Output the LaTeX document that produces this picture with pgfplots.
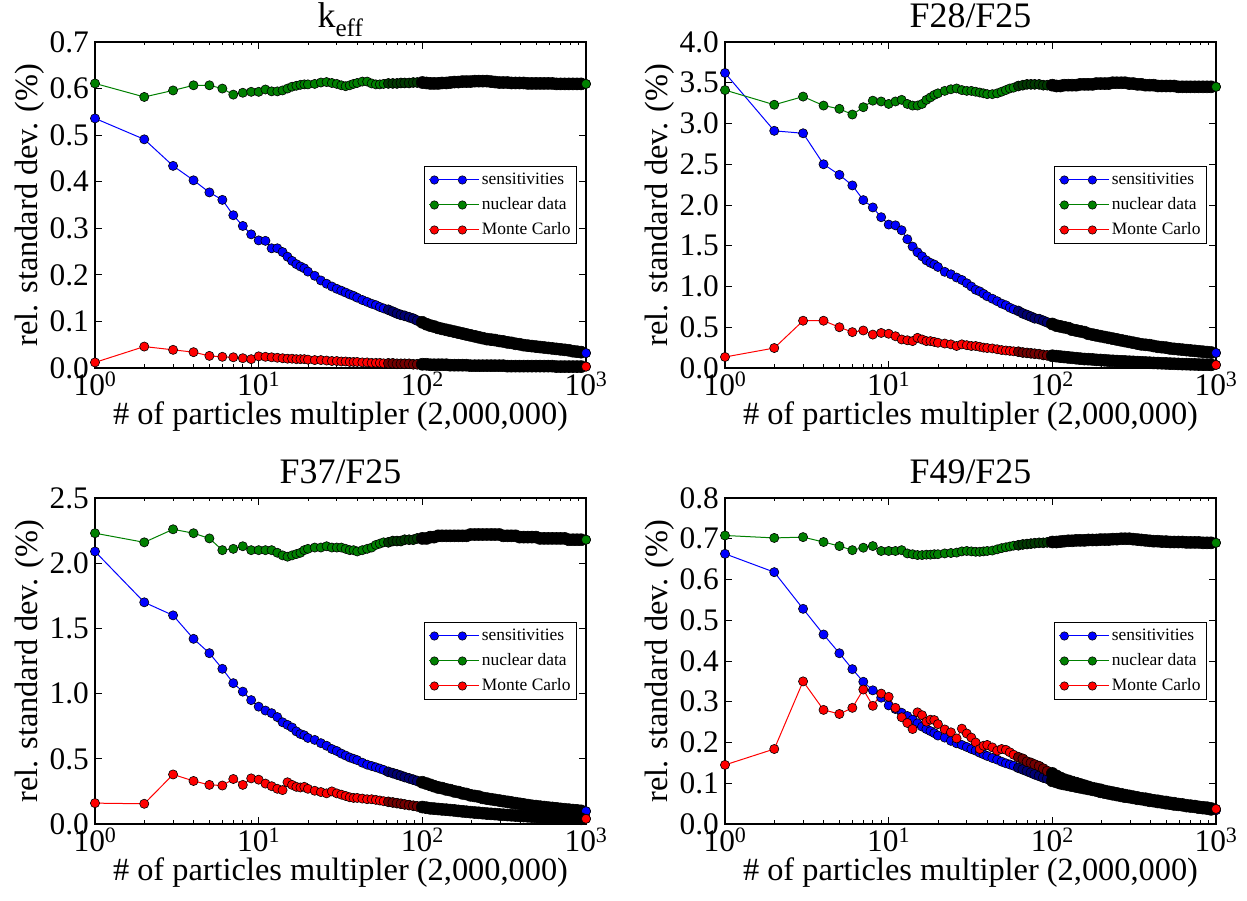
\documentclass[border=0pt]{standalone}
\usepackage{fontspec}
\setmainfont{Liberation Serif}
\usepackage{pgfplots}
\usepackage{pgfplotstable}
\pgfplotsset{compat=1.18}
\definecolor{cB}{rgb}{0,0,1}
\definecolor{cG}{rgb}{0,0.5,0}
\definecolor{cR}{rgb}{1,0,0}

\pgfplotstableread{
x s n m
1 0.536 0.611 0.012
2 0.491 0.582 0.046
3 0.434 0.596 0.039
4 0.403 0.607 0.034
5 0.377 0.607 0.026
6 0.361 0.600 0.024
7 0.328 0.587 0.023
8 0.305 0.591 0.021
9 0.287 0.593 0.019
10 0.274 0.593 0.025
11 0.273 0.598 0.024
12 0.257 0.594 0.023
13 0.257 0.594 0.022
14 0.249 0.596 0.021
15 0.239 0.600 0.020
16 0.230 0.604 0.020
17 0.223 0.606 0.019
18 0.218 0.608 0.019
19 0.214 0.609 0.019
20 0.207 0.609 0.018
22 0.198 0.610 0.017
24 0.188 0.613 0.017
26 0.181 0.614 0.016
28 0.175 0.612 0.015
30 0.170 0.610 0.015
32 0.166 0.607 0.014
34 0.162 0.605 0.014
36 0.158 0.607 0.013
38 0.155 0.610 0.013
40 0.151 0.612 0.013
43 0.146 0.615 0.012
46 0.142 0.615 0.012
49 0.138 0.611 0.011
52 0.135 0.609 0.011
55 0.131 0.609 0.011
58 0.128 0.610 0.010
62 0.125 0.611 0.010
66 0.121 0.611 0.010
70 0.117 0.611 0.009
74 0.114 0.612 0.009
78 0.112 0.612 0.009
83 0.109 0.612 0.009
88 0.106 0.613 0.008
93 0.102 0.613 0.008
100 0.098 0.613 0.008
106 0.094 0.612 0.008
112 0.091 0.611 0.007
118 0.089 0.611 0.007
125 0.086 0.611 0.007
132 0.084 0.612 0.007
140 0.082 0.612 0.007
148 0.080 0.613 0.006
157 0.078 0.614 0.006
166 0.076 0.614 0.006
176 0.074 0.615 0.006
186 0.072 0.615 0.006
197 0.070 0.615 0.005
209 0.068 0.616 0.005
221 0.066 0.616 0.005
234 0.064 0.616 0.005
248 0.062 0.616 0.005
263 0.061 0.615 0.005
278 0.060 0.614 0.005
295 0.058 0.613 0.005
312 0.057 0.613 0.005
331 0.055 0.613 0.004
350 0.054 0.612 0.004
371 0.052 0.612 0.004
393 0.051 0.612 0.004
416 0.049 0.612 0.004
441 0.048 0.611 0.004
467 0.047 0.611 0.004
495 0.046 0.611 0.004
524 0.045 0.611 0.004
555 0.044 0.611 0.004
588 0.043 0.611 0.004
623 0.042 0.611 0.004
660 0.041 0.610 0.003
699 0.040 0.610 0.003
741 0.039 0.610 0.003
785 0.038 0.610 0.003
832 0.036 0.610 0.003
881 0.035 0.610 0.003
933 0.034 0.610 0.003
1000 0.032 0.610 0.003
}\tA

\pgfplotstableread{
x s n m
1 3.62 3.41 0.135
2 2.91 3.23 0.245
3 2.88 3.33 0.58
4 2.50 3.22 0.58
5 2.37 3.18 0.50
6 2.24 3.11 0.44
7 2.06 3.20 0.46
8 1.97 3.28 0.41
9 1.85 3.27 0.43
10 1.76 3.24 0.42
11 1.75 3.27 0.39
12 1.69 3.29 0.35
13 1.58 3.24 0.34
14 1.49 3.22 0.33
15 1.42 3.22 0.37
16 1.37 3.24 0.35
17 1.32 3.29 0.33
18 1.29 3.32 0.33
19 1.27 3.35 0.32
20 1.24 3.37 0.31
22 1.18 3.40 0.30
24 1.15 3.42 0.29
26 1.11 3.43 0.27
28 1.08 3.41 0.29
30 1.04 3.40 0.28
32 1.00 3.40 0.27
34 0.96 3.39 0.27
36 0.94 3.38 0.26
38 0.91 3.37 0.25
40 0.88 3.36 0.245
43 0.85 3.36 0.24
46 0.82 3.37 0.23
49 0.79 3.39 0.22
52 0.77 3.41 0.215
55 0.74 3.43 0.21
58 0.72 3.44 0.205
62 0.70 3.46 0.20
66 0.67 3.47 0.19
70 0.65 3.48 0.185
74 0.63 3.48 0.18
78 0.61 3.48 0.175
83 0.60 3.48 0.17
88 0.58 3.47 0.16
93 0.56 3.47 0.155
100 0.54 3.47 0.15
106 0.52 3.46 0.145
112 0.51 3.46 0.14
118 0.50 3.47 0.135
125 0.49 3.47 0.13
132 0.47 3.47 0.125
140 0.46 3.47 0.12
148 0.45 3.48 0.115
157 0.44 3.48 0.11
166 0.42 3.48 0.108
176 0.41 3.48 0.105
186 0.40 3.49 0.10
197 0.39 3.49 0.098
209 0.38 3.49 0.095
221 0.37 3.49 0.09
234 0.36 3.50 0.088
248 0.35 3.50 0.085
263 0.34 3.50 0.082
278 0.33 3.50 0.08
295 0.32 3.49 0.077
312 0.31 3.49 0.075
331 0.30 3.48 0.072
350 0.29 3.48 0.07
371 0.285 3.47 0.067
393 0.28 3.47 0.065
416 0.27 3.47 0.062
441 0.26 3.46 0.06
467 0.255 3.46 0.058
495 0.25 3.46 0.056
524 0.24 3.46 0.054
555 0.235 3.46 0.052
588 0.23 3.45 0.05
623 0.225 3.45 0.048
660 0.22 3.45 0.047
699 0.215 3.45 0.045
741 0.21 3.45 0.044
785 0.205 3.45 0.042
832 0.20 3.45 0.041
881 0.195 3.45 0.04
933 0.19 3.45 0.039
1000 0.185 3.45 0.038
}\tB

\pgfplotstableread{
x s n m
1 2.09 2.23 0.16
2 1.70 2.16 0.155
3 1.60 2.26 0.38
4 1.42 2.23 0.33
5 1.31 2.19 0.30
6 1.19 2.10 0.295
7 1.08 2.11 0.345
8 1.015 2.13 0.30
9 0.95 2.10 0.35
10 0.90 2.10 0.34
11 0.87 2.10 0.31
12 0.85 2.10 0.29
13 0.82 2.08 0.27
14 0.78 2.06 0.26
15 0.76 2.05 0.32
16 0.74 2.06 0.30
17 0.71 2.07 0.285
18 0.69 2.08 0.28
19 0.68 2.10 0.285
20 0.66 2.11 0.27
22 0.645 2.12 0.255
24 0.62 2.12 0.245
26 0.60 2.13 0.235
28 0.575 2.12 0.25
30 0.56 2.12 0.235
32 0.54 2.12 0.225
34 0.525 2.11 0.215
36 0.51 2.10 0.205
38 0.50 2.10 0.20
40 0.49 2.09 0.20
43 0.47 2.10 0.195
46 0.455 2.11 0.19
49 0.445 2.12 0.19
52 0.435 2.14 0.185
55 0.425 2.15 0.18
58 0.415 2.16 0.175
62 0.40 2.16 0.17
66 0.39 2.17 0.165
70 0.38 2.17 0.16
74 0.37 2.17 0.155
78 0.36 2.18 0.15
83 0.35 2.18 0.145
88 0.34 2.18 0.14
93 0.33 2.19 0.135
100 0.32 2.19 0.13
106 0.31 2.19 0.125
112 0.30 2.20 0.12
118 0.29 2.20 0.118
125 0.28 2.21 0.115
132 0.275 2.21 0.112
140 0.265 2.21 0.11
148 0.26 2.21 0.107
157 0.25 2.21 0.104
166 0.245 2.21 0.10
176 0.235 2.21 0.097
186 0.23 2.21 0.094
197 0.22 2.22 0.091
209 0.215 2.22 0.088
221 0.21 2.22 0.086
234 0.20 2.22 0.083
248 0.195 2.22 0.08
263 0.19 2.22 0.078
278 0.185 2.22 0.076
295 0.18 2.22 0.073
312 0.175 2.21 0.071
331 0.17 2.21 0.069
350 0.165 2.21 0.067
371 0.16 2.21 0.065
393 0.155 2.20 0.063
416 0.15 2.20 0.061
441 0.145 2.20 0.059
467 0.14 2.20 0.057
495 0.137 2.20 0.055
524 0.133 2.19 0.053
555 0.13 2.19 0.051
588 0.126 2.19 0.05
623 0.123 2.19 0.048
660 0.12 2.19 0.047
699 0.116 2.19 0.045
741 0.113 2.19 0.044
785 0.11 2.18 0.043
832 0.107 2.18 0.042
881 0.104 2.18 0.041
933 0.101 2.18 0.040
1000 0.098 2.18 0.04
}\tC

\pgfplotstableread{
x s n m
1 0.663 0.708 0.145
2 0.618 0.702 0.184
3 0.528 0.704 0.350
4 0.465 0.692 0.280
5 0.419 0.682 0.270
6 0.380 0.672 0.285
7 0.349 0.678 0.330
8 0.328 0.682 0.290
9 0.310 0.670 0.320
10 0.291 0.670 0.312
11 0.282 0.670 0.285
12 0.273 0.672 0.262
13 0.265 0.664 0.248
14 0.256 0.662 0.233
15 0.247 0.660 0.274
16 0.239 0.660 0.267
17 0.233 0.661 0.251
18 0.228 0.661 0.256
19 0.223 0.662 0.255
20 0.217 0.662 0.245
22 0.212 0.664 0.232
24 0.204 0.665 0.225
26 0.198 0.666 0.210
28 0.194 0.669 0.234
30 0.189 0.670 0.222
32 0.184 0.669 0.212
34 0.180 0.668 0.200
36 0.175 0.668 0.184
38 0.171 0.669 0.192
40 0.167 0.670 0.194
43 0.162 0.671 0.188
46 0.158 0.674 0.180
49 0.153 0.677 0.184
52 0.149 0.679 0.182
55 0.146 0.681 0.176
58 0.143 0.683 0.170
62 0.138 0.684 0.164
66 0.134 0.686 0.160
70 0.130 0.687 0.153
74 0.126 0.688 0.150
78 0.122 0.689 0.146
83 0.118 0.690 0.142
88 0.114 0.690 0.136
93 0.111 0.691 0.130
100 0.106 0.692 0.124
106 0.103 0.692 0.118
112 0.100 0.693 0.113
118 0.098 0.694 0.109
125 0.096 0.695 0.106
132 0.094 0.695 0.103
140 0.092 0.696 0.100
148 0.090 0.696 0.097
157 0.088 0.696 0.094
166 0.086 0.697 0.091
176 0.084 0.697 0.088
186 0.082 0.697 0.086
197 0.079 0.698 0.084
209 0.077 0.698 0.081
221 0.075 0.698 0.079
234 0.073 0.699 0.077
248 0.071 0.699 0.075
263 0.069 0.700 0.073
278 0.067 0.700 0.071
295 0.066 0.700 0.069
312 0.064 0.699 0.067
331 0.062 0.698 0.065
350 0.061 0.697 0.063
371 0.059 0.696 0.062
393 0.057 0.695 0.060
416 0.056 0.694 0.058
441 0.054 0.694 0.057
467 0.053 0.693 0.055
495 0.051 0.693 0.054
524 0.050 0.692 0.052
555 0.048 0.692 0.051
588 0.047 0.692 0.049
623 0.046 0.692 0.048
660 0.044 0.691 0.046
699 0.043 0.691 0.045
741 0.042 0.691 0.044
785 0.040 0.691 0.042
832 0.039 0.690 0.041
881 0.038 0.690 0.040
933 0.036 0.690 0.038
1000 0.034 0.690 0.037
}\tD

\pgfplotsset{
  scale only axis, width=491bp, height=326bp,
  xmin=1, xmax=1000, ymin=0,
  xtick={1,10,100,1000},
  xticklabels={10\textsuperscript{0},10\textsuperscript{1},10\textsuperscript{2},10\textsuperscript{3}},
  axis line style={line width=1.1bp},
  major tick length=7bp, minor tick length=3.5bp,
  tick align=inside,
  tick style={black, line width=0.8bp},
  tick label style={font=\fontsize{31.5}{36}\selectfont},
  xticklabel style={inner sep=0pt, anchor=north, yshift=-3.5bp},
  yticklabel style={inner sep=0pt, anchor=east, xshift=-6bp},
  label style={font=\fontsize{32.5}{38}\selectfont},
  xlabel style={at={(axis description cs:0.5,0)}, anchor=north, inner sep=0pt, yshift=-34bp},
  ylabel style={at={(axis description cs:-0.1324,0.5)}, anchor=center, inner sep=0pt},
  title style={font=\fontsize{36}{42}\selectfont, at={(axis description cs:0.5,1)}, anchor=base, inner sep=0pt, yshift=9bp},
  legend style={at={(axis description cs:1,0.5)}, anchor=east, xshift=-9bp,
      draw=black, line width=1bp, font=\fontsize{17.5}{21}\selectfont,
      inner xsep=4bp, inner ysep=5bp, row sep=8.5bp, column sep=0pt,
      nodes={inner xsep=2bp, inner ysep=0pt, text height=12.5bp, text depth=4bp}},
  legend cell align=left,
  legend image code/.code={\draw[mark repeat=2,mark phase=1,#1,mark size=4.2bp] plot coordinates {(0bp,0bp) (14bp,0bp) (28bp,0bp)};
    \path (-5bp,0bp) -- (45bp,0bp);},
  ser/.style={color=#1, line width=1bp, mark=*, mark size=4.6bp,
    mark options={fill=#1, draw=black, line width=0.6bp, solid}},
  dk/.style={forget plot, only marks, mark=*, mark size=5.0bp,
    mark options={fill=#1!45!black, draw=black, line width=0.6bp},
    skip coords between index={0}{36}, skip coords between index={84}{85}},
  bk/.style={forget plot, only marks, mark=*, mark size=6.0bp,
    mark options={fill=black, draw=black, line width=0.6bp},
    skip coords between index={0}{44}, skip coords between index={84}{85}},
  lst/.style={forget plot, only marks, mark=*, mark size=4.6bp,
    mark options={fill=#1, draw=black, line width=0.6bp},
    skip coords between index={0}{84}},
}

\begin{document}
\begin{tikzpicture}
\useasboundingbox (0bp,0bp) rectangle (1247bp,901bp);

\begin{semilogxaxis}[at={(95bp,533bp)}, anchor=south west, ymax=0.7,
  ytick={0,0.1,0.2,0.3,0.4,0.5,0.6,0.7},
  yticklabels={0.0,0.1,0.2,0.3,0.4,0.5,0.6,0.7},
  xlabel={\# of particles multipler (2,000,000)},
  ylabel={rel. standard dev. (\%)},
  title={k\textsubscript{eff}}]
\addplot[ser=cB] table[x=x,y=s]{\tA};
\addlegendentry{sensitivities}
\addplot[dk=cB] table[x=x,y=s]{\tA};
\addplot[bk] table[x=x,y=s]{\tA};
\addplot[lst=cB] table[x=x,y=s]{\tA};
\addplot[ser=cG] table[x=x,y=n]{\tA};
\addlegendentry{nuclear data}
\addplot[dk=cG] table[x=x,y=n]{\tA};
\addplot[bk] table[x=x,y=n]{\tA};
\addplot[lst=cG] table[x=x,y=n]{\tA};
\addplot[ser=cR] table[x=x,y=m]{\tA};
\addlegendentry{Monte Carlo}
\addplot[dk=cR] table[x=x,y=m]{\tA};
\addplot[bk] table[x=x,y=m]{\tA};
\addplot[lst=cR] table[x=x,y=m]{\tA};
\end{semilogxaxis}

\begin{semilogxaxis}[at={(725bp,533bp)}, anchor=south west, ymax=4.0,
  ytick={0,0.5,1,1.5,2,2.5,3,3.5,4},
  yticklabels={0.0,0.5,1.0,1.5,2.0,2.5,3.0,3.5,4.0},
  xlabel={\# of particles multipler (2,000,000)},
  ylabel={rel. standard dev. (\%)},
  title={F28/F25}]
\addplot[ser=cB] table[x=x,y=s]{\tB};
\addlegendentry{sensitivities}
\addplot[dk=cB] table[x=x,y=s]{\tB};
\addplot[bk] table[x=x,y=s]{\tB};
\addplot[lst=cB] table[x=x,y=s]{\tB};
\addplot[ser=cG] table[x=x,y=n]{\tB};
\addlegendentry{nuclear data}
\addplot[dk=cG] table[x=x,y=n]{\tB};
\addplot[bk] table[x=x,y=n]{\tB};
\addplot[lst=cG] table[x=x,y=n]{\tB};
\addplot[ser=cR] table[x=x,y=m]{\tB};
\addlegendentry{Monte Carlo}
\addplot[dk=cR] table[x=x,y=m]{\tB};
\addplot[bk] table[x=x,y=m]{\tB};
\addplot[lst=cR] table[x=x,y=m]{\tB};
\end{semilogxaxis}

\begin{semilogxaxis}[at={(95bp,77bp)}, anchor=south west, ymax=2.5,
  ytick={0,0.5,1,1.5,2,2.5},
  yticklabels={0.0,0.5,1.0,1.5,2.0,2.5},
  xlabel={\# of particles multipler (2,000,000)},
  ylabel={rel. standard dev. (\%)},
  title={F37/F25}]
\addplot[ser=cB] table[x=x,y=s]{\tC};
\addlegendentry{sensitivities}
\addplot[dk=cB] table[x=x,y=s]{\tC};
\addplot[bk] table[x=x,y=s]{\tC};
\addplot[lst=cB] table[x=x,y=s]{\tC};
\addplot[ser=cG] table[x=x,y=n]{\tC};
\addlegendentry{nuclear data}
\addplot[dk=cG] table[x=x,y=n]{\tC};
\addplot[bk] table[x=x,y=n]{\tC};
\addplot[lst=cG] table[x=x,y=n]{\tC};
\addplot[ser=cR] table[x=x,y=m]{\tC};
\addlegendentry{Monte Carlo}
\addplot[dk=cR] table[x=x,y=m]{\tC};
\addplot[bk] table[x=x,y=m]{\tC};
\addplot[lst=cR] table[x=x,y=m]{\tC};
\end{semilogxaxis}

\begin{semilogxaxis}[at={(725bp,77bp)}, anchor=south west, ymax=0.8,
  ytick={0,0.1,0.2,0.3,0.4,0.5,0.6,0.7,0.8},
  yticklabels={0.0,0.1,0.2,0.3,0.4,0.5,0.6,0.7,0.8},
  xlabel={\# of particles multipler (2,000,000)},
  ylabel={rel. standard dev. (\%)},
  title={F49/F25}]
\addplot[ser=cB] table[x=x,y=s]{\tD};
\addlegendentry{sensitivities}
\addplot[dk=cB] table[x=x,y=s]{\tD};
\addplot[bk] table[x=x,y=s]{\tD};
\addplot[lst=cB] table[x=x,y=s]{\tD};
\addplot[ser=cG] table[x=x,y=n]{\tD};
\addlegendentry{nuclear data}
\addplot[dk=cG] table[x=x,y=n]{\tD};
\addplot[bk] table[x=x,y=n]{\tD};
\addplot[lst=cG] table[x=x,y=n]{\tD};
\addplot[ser=cR] table[x=x,y=m]{\tD};
\addlegendentry{Monte Carlo}
\addplot[dk=cR] table[x=x,y=m]{\tD};
\addplot[bk] table[x=x,y=m]{\tD};
\addplot[lst=cR] table[x=x,y=m]{\tD};
\end{semilogxaxis}
\end{tikzpicture}
\end{document}
